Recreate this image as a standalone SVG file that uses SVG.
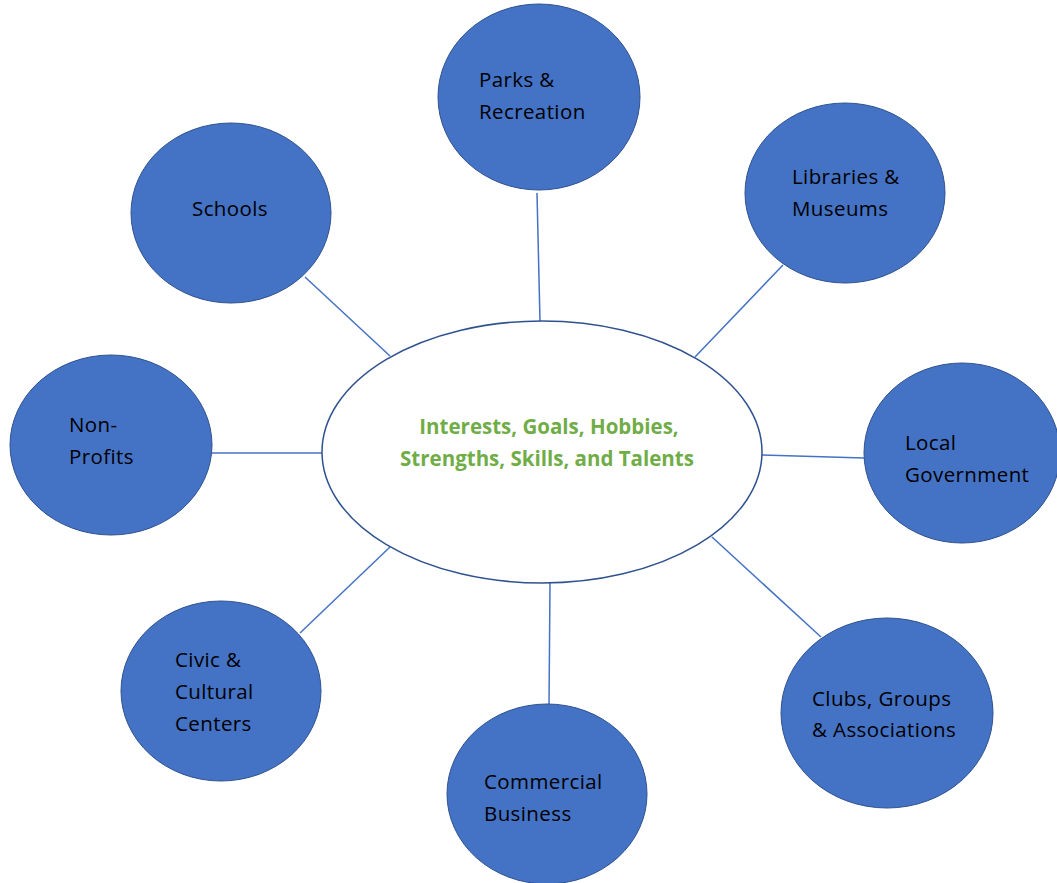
<svg xmlns="http://www.w3.org/2000/svg" width="1057" height="883" viewBox="0 0 1057 883">
<style>
.n{fill:#4472C4;stroke:#2F528F;stroke-width:1}
.t{font-family:"Open Sans","Noto Sans",sans-serif;font-size:20.5px;letter-spacing:0.4px;fill:#000}
.c{fill:none;stroke:#4472C4;stroke-width:1.5}
.ct{font-family:"Open Sans","Noto Sans",sans-serif;font-size:20.5px;font-weight:bold;fill:#70AD47;text-anchor:middle}
</style>
<rect width="1057" height="883" fill="#fff"/>
<g id="connectors">
<line class="c" x1="537" y1="193" x2="540" y2="321"/>
<line class="c" x1="783" y1="265" x2="695" y2="357"/>
<line class="c" x1="305" y1="277" x2="390" y2="356"/>
<line class="c" x1="212" y1="453" x2="323" y2="453"/>
<line class="c" x1="762" y1="455" x2="864" y2="458"/>
<line class="c" x1="300" y1="633" x2="390" y2="547"/>
<line class="c" x1="550" y1="583" x2="549" y2="705"/>
<line class="c" x1="712" y1="537" x2="821" y2="637"/>
</g>
<g id="center">
<ellipse cx="542" cy="452" rx="220" ry="131" fill="#fff" stroke="#2F528F" stroke-width="1.5"/>
<text class="ct" x="549" y="434">Interests, Goals, Hobbies,</text>
<text class="ct" x="547" y="466">Strengths, Skills, and Talents</text>
</g>
<g id="parks">
<ellipse class="n" cx="539" cy="97" rx="101" ry="93"/>
<text class="t" x="479" y="87">Parks &amp;</text>
<text class="t" x="479" y="119">Recreation</text>
</g>
<g id="libraries">
<ellipse class="n" cx="845" cy="193" rx="100" ry="90"/>
<text class="t" x="792" y="184">Libraries &amp;</text>
<text class="t" x="792" y="216">Museums</text>
</g>
<g id="schools">
<ellipse class="n" cx="231" cy="213" rx="100" ry="90"/>
<text class="t" x="192" y="216">Schools</text>
</g>
<g id="nonprofits">
<ellipse class="n" cx="111" cy="445" rx="101" ry="90"/>
<text class="t" x="69" y="432">Non-</text>
<text class="t" x="69" y="464">Profits</text>
</g>
<g id="localgov">
<ellipse class="n" cx="962" cy="453" rx="98" ry="90"/>
<text class="t" x="905" y="450">Local</text>
<text class="t" x="905" y="482">Government</text>
</g>
<g id="civic">
<ellipse class="n" cx="221" cy="691" rx="100" ry="90"/>
<text class="t" x="175" y="667">Civic &amp;</text>
<text class="t" x="175" y="699">Cultural</text>
<text class="t" x="175" y="731">Centers</text>
</g>
<g id="commercial">
<ellipse class="n" cx="547" cy="794" rx="100" ry="90"/>
<text class="t" x="484" y="789">Commercial</text>
<text class="t" x="484" y="821">Business</text>
</g>
<g id="clubs">
<ellipse class="n" cx="887" cy="713" rx="106" ry="95"/>
<text class="t" x="812" y="706">Clubs, Groups</text>
<text class="t" x="812" y="737">&amp; Associations</text>
</g>
</svg>
